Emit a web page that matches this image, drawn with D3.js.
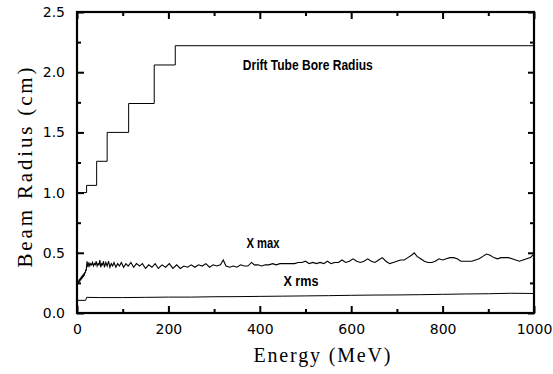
<!DOCTYPE html>
<html>
<head>
<meta charset="utf-8">
<script src="https://cdn.jsdelivr.net/npm/d3@7"></script>
<style>
  html, body { margin: 0; padding: 0; background: #fff; }
  svg { display: block; }
</style>
</head>
<body>
<svg id="chart" width="553" height="374"></svg>
<script>
// ---------- data ----------
const xTicksMajor = [0, 200, 400, 600, 800, 1000];
const xTicksMinor = [100, 300, 500, 700, 900];
const yTicksMajor = [0.0, 0.5, 1.0, 1.5, 2.0, 2.5];
const yTicksMinor = [0.25, 0.75, 1.25, 1.75, 2.25];

// Drift tube bore radius (step function): energy (MeV), radius (cm)
const boreEnergy = [3, 21, 43, 66, 113, 169, 215, 1000];
const boreRadius = [1.00, 1.06, 1.26, 1.50, 1.74, 2.06, 2.22, 2.22];

// X max envelope
const xmaxEnergy = [2,3,4,5,6,7,8,9,10,11,12,13,14,15,16,17,18,19,20,22,24,26,28,30,32,34,36,38,40,42,44,46,48,50,52,54,56,58,60,63,66,69,72,75,78,81,85,89,93,97,102,107,112,118,124,130,137,143,150,157,164,171,178,186,194,202,210,218,226,234,242,250,258,266,274,282,290,298,306,314,320,326,334,342,350,358,366,374,382,388,396,404,412,420,428,436,444,452,460,468,476,484,492,500,508,516,524,532,540,548,556,564,572,580,588,596,604,612,620,628,636,644,652,660,668,676,684,692,700,708,716,724,732,738,744,752,760,768,776,784,792,800,808,816,824,832,840,848,856,864,872,880,888,896,904,912,920,928,936,944,952,960,968,976,984,992,1000];
const xmaxValue  = [0.24,0.27,0.25,0.28,0.26,0.29,0.27,0.30,0.28,0.31,0.29,0.32,0.30,0.33,0.31,0.34,0.33,0.36,0.35,0.43,0.38,0.42,0.39,0.41,0.40,0.42,0.39,0.41,0.40,0.43,0.39,0.41,0.40,0.44,0.38,0.41,0.40,0.43,0.38,0.42,0.39,0.43,0.38,0.41,0.39,0.42,0.38,0.41,0.39,0.42,0.38,0.41,0.39,0.42,0.38,0.41,0.39,0.41,0.37,0.40,0.38,0.41,0.37,0.40,0.38,0.41,0.37,0.40,0.37,0.39,0.38,0.40,0.38,0.40,0.39,0.41,0.38,0.40,0.39,0.40,0.44,0.39,0.38,0.39,0.38,0.40,0.39,0.39,0.42,0.40,0.40,0.39,0.40,0.40,0.41,0.40,0.41,0.41,0.41,0.41,0.41,0.42,0.42,0.43,0.41,0.42,0.41,0.42,0.41,0.43,0.41,0.42,0.42,0.44,0.42,0.43,0.45,0.43,0.42,0.43,0.45,0.43,0.42,0.44,0.46,0.43,0.41,0.42,0.43,0.44,0.44,0.46,0.48,0.50,0.47,0.45,0.43,0.42,0.42,0.43,0.45,0.44,0.45,0.46,0.46,0.45,0.43,0.43,0.43,0.43,0.44,0.45,0.47,0.49,0.48,0.46,0.45,0.46,0.46,0.46,0.45,0.44,0.43,0.44,0.45,0.46,0.49];

// X rms envelope
const xrmsEnergy = [2, 19, 21, 50, 100, 150, 200, 250, 300, 350, 400, 450, 500, 550, 600, 650, 700, 750, 800, 850, 900, 950, 1000];
const xrmsValue  = [0.105, 0.105, 0.13, 0.128, 0.128, 0.130, 0.132, 0.132, 0.135, 0.136, 0.138, 0.140, 0.142, 0.144, 0.147, 0.149, 0.150, 0.152, 0.155, 0.158, 0.160, 0.164, 0.162];

const labels = [
  { text: "Drift Tube Bore Radius", e: 505, v: 2.02, w: 130 },
  { text: "X max", e: 407, v: 0.54, w: 33 },
  { text: "X rms", e: 490, v: 0.224, w: 35 }
];

// ---------- layout ----------
const svg = d3.select("#chart");
const L = 77, R = 534, T = 12, B = 313;
const x = d3.scaleLinear().domain([0, 1000]).range([L, R]);
const y = d3.scaleLinear().domain([0, 2.5]).range([B, T]);

svg.append("rect").attr("width", 553).attr("height", 374).attr("fill", "#fff");

function styleAxis(g) {
  g.select(".domain").remove();
  g.selectAll("line").attr("stroke", "#000").attr("stroke-width", 2);
  g.selectAll("text").attr("fill", "#000")
    .style("font-family", "'DejaVu Sans', sans-serif").style("font-size", "14px");
}
// bottom
svg.append("g").attr("transform", `translate(0,${B})`)
  .call(d3.axisBottom(x).tickValues(xTicksMajor).tickSizeInner(-7).tickSizeOuter(0).tickPadding(11).tickFormat(d3.format("d")))
  .call(styleAxis);
svg.append("g").attr("transform", `translate(0,${B})`)
  .call(d3.axisBottom(x).tickValues(xTicksMinor).tickSizeInner(-4).tickSizeOuter(0).tickFormat(""))
  .call(styleAxis);
// top
svg.append("g").attr("transform", `translate(0,${T})`)
  .call(d3.axisTop(x).tickValues(xTicksMajor).tickSizeInner(-7).tickSizeOuter(0).tickFormat(""))
  .call(styleAxis);
svg.append("g").attr("transform", `translate(0,${T})`)
  .call(d3.axisTop(x).tickValues(xTicksMinor).tickSizeInner(-4).tickSizeOuter(0).tickFormat(""))
  .call(styleAxis);
// left
svg.append("g").attr("transform", `translate(${L},0)`)
  .call(d3.axisLeft(y).tickValues(yTicksMajor).tickSizeInner(-7).tickSizeOuter(0).tickPadding(12).tickFormat(d3.format(".1f")))
  .call(styleAxis);
svg.append("g").attr("transform", `translate(${L},0)`)
  .call(d3.axisLeft(y).tickValues(yTicksMinor).tickSizeInner(-4).tickSizeOuter(0).tickFormat(""))
  .call(styleAxis);
// right
svg.append("g").attr("transform", `translate(${R},0)`)
  .call(d3.axisRight(y).tickValues(yTicksMajor).tickSizeInner(-6).tickSizeOuter(0).tickFormat(""))
  .call(styleAxis);
svg.append("g").attr("transform", `translate(${R},0)`)
  .call(d3.axisRight(y).tickValues(yTicksMinor).tickSizeInner(-4).tickSizeOuter(0).tickFormat(""))
  .call(styleAxis);

// frame
svg.append("rect").attr("x", L).attr("y", T).attr("width", R - L).attr("height", B - T)
  .attr("fill", "none").attr("stroke", "#000").attr("stroke-width", 2.2);

// ---------- series ----------
const stepLine = d3.line().curve(d3.curveStepAfter).x(d => x(d[0])).y(d => y(d[1]));
const plainLine = d3.line().x(d => x(d[0])).y(d => y(d[1]));

svg.append("path").datum(boreEnergy.map((e, i) => [e, boreRadius[i]]))
  .attr("d", stepLine).attr("fill", "none").attr("stroke", "#000").attr("stroke-width", 1);
svg.append("path").datum(xmaxEnergy.map((e, i) => [e, xmaxValue[i]]))
  .attr("d", plainLine).attr("fill", "none").attr("stroke", "#000").attr("stroke-width", 1.1);
svg.append("path").datum(xrmsEnergy.map((e, i) => [e, xrmsValue[i]]))
  .attr("d", plainLine).attr("fill", "none").attr("stroke", "#000").attr("stroke-width", 1);

// annotations
svg.selectAll("text.lab").data(labels).enter().append("text").attr("class", "lab")
  .attr("x", d => x(d.e)).attr("y", d => y(d.v))
  .attr("text-anchor", "middle")
  .attr("textLength", d => d.w).attr("lengthAdjust", "spacingAndGlyphs")
  .style("font-family", "'Liberation Sans Narrow', 'Liberation Sans', sans-serif")
  .style("font-size", "14px").style("font-weight", "bold")
  .text(d => d.text);

// axis titles
svg.append("text").attr("x", 322).attr("y", 362)
  .attr("text-anchor", "middle").attr("textLength", 137).attr("lengthAdjust", "spacing")
  .style("font-family", "'Liberation Serif', serif").style("font-size", "20px")
  .text("Energy (MeV)");
svg.append("text").attr("transform", `translate(32,${(T + B) / 2 + 5}) rotate(-90)`)
  .attr("text-anchor", "middle").attr("textLength", 200).attr("lengthAdjust", "spacing")
  .style("font-family", "'Liberation Serif', serif").style("font-size", "21px")
  .text("Beam Radius (cm)");
</script>
</body>
</html>
